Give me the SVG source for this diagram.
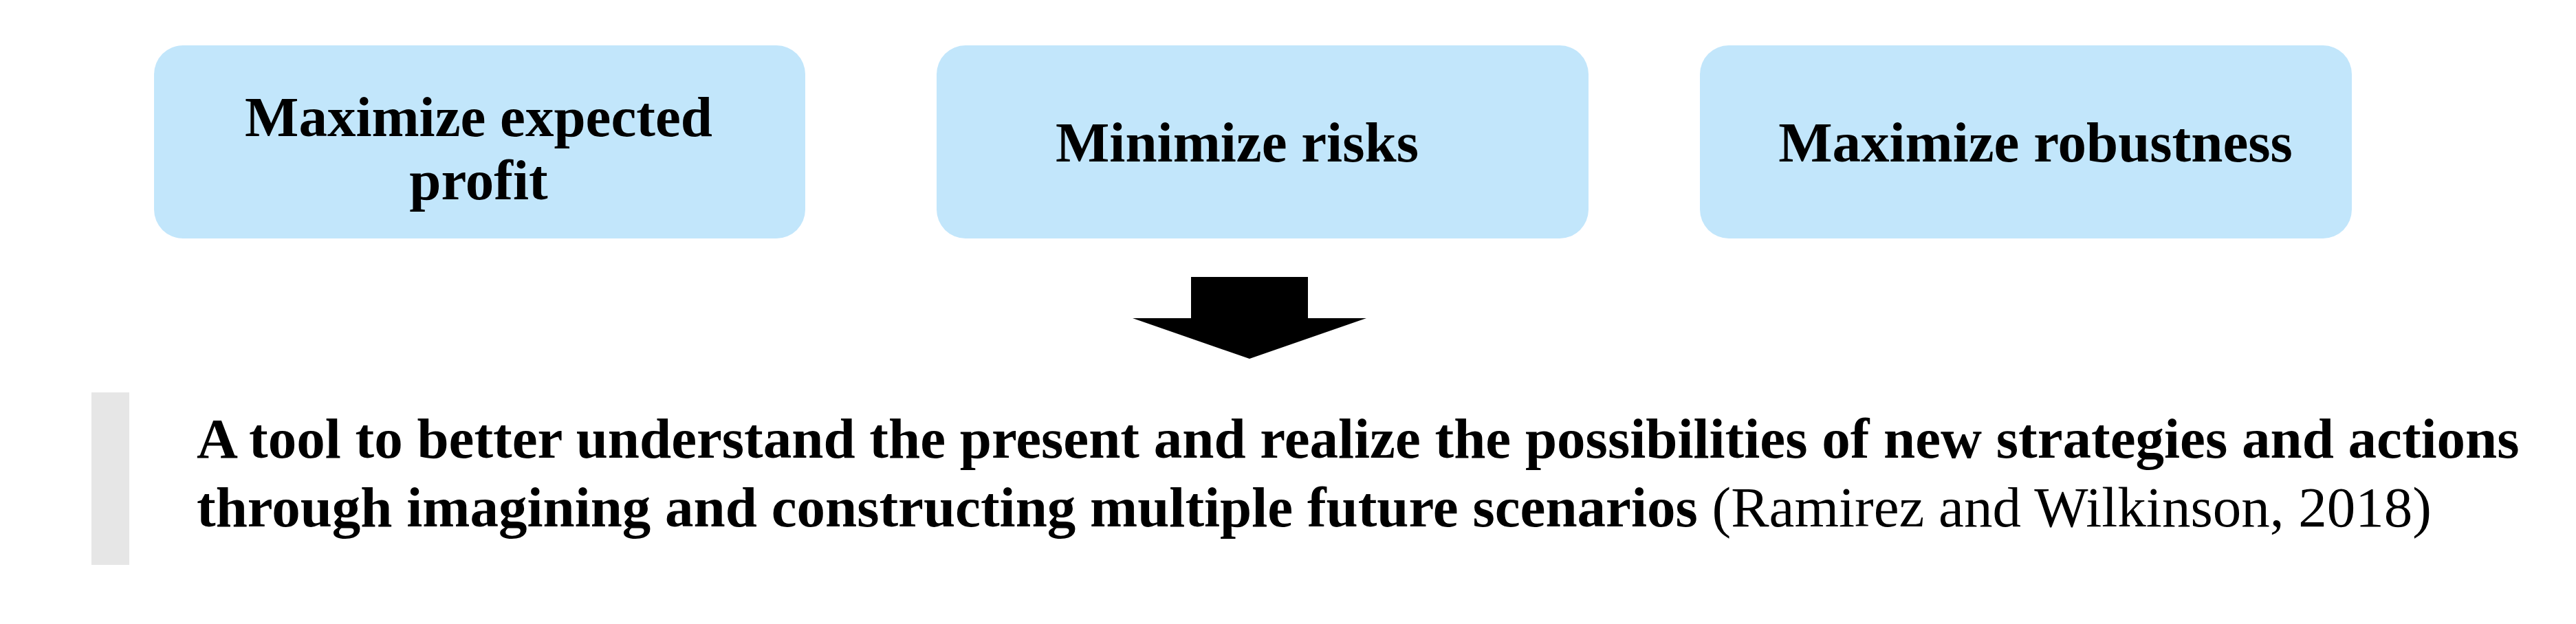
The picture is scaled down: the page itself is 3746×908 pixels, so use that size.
<svg xmlns="http://www.w3.org/2000/svg" width="3746" height="908" viewBox="0 0 3746 908">
<style>
.box{fill:#c2e6fb;}
.t{font-family:"Liberation Serif","Times New Roman",serif;font-weight:bold;font-size:83px;fill:#000;}
.b{font-family:"Liberation Serif","Times New Roman",serif;font-size:83px;fill:#000;}
</style>
<rect width="3746" height="908" fill="#fff"/>
<g id="node-profit">
<rect class="box" x="224" y="66" width="947" height="281" rx="42" ry="42"/>
<text class="t" x="696" y="198" text-anchor="middle">Maximize expected</text>
<text class="t" x="696" y="290" text-anchor="middle">profit</text>
</g>
<g id="node-risks">
<rect class="box" x="1362" y="66" width="948" height="281" rx="42" ry="42"/>
<text class="t" x="1799" y="235" text-anchor="middle">Minimize risks</text>
</g>
<g id="node-robust">
<rect class="box" x="2472" y="66" width="948" height="281" rx="42" ry="42"/>
<text class="t" x="2960" y="235" text-anchor="middle">Maximize robustness</text>
</g>
<g id="connectors">
<polygon points="1732,403 1902,403 1902,463 1987,463 1817,522 1647,463 1732,463" fill="#000"/>
</g>
<g id="node-definition">
<rect x="133" y="571" width="55" height="251" fill="#e6e6e6"/>
<text class="b" x="286" y="666" font-weight="bold">A tool to better understand the present and realize the possibilities of new strategies and actions</text>
<text class="b" x="286" y="766"><tspan font-weight="bold">through imagining and constructing multiple future scenarios</tspan> (Ramirez and Wilkinson, 2018)</text>
</g>
</svg>
